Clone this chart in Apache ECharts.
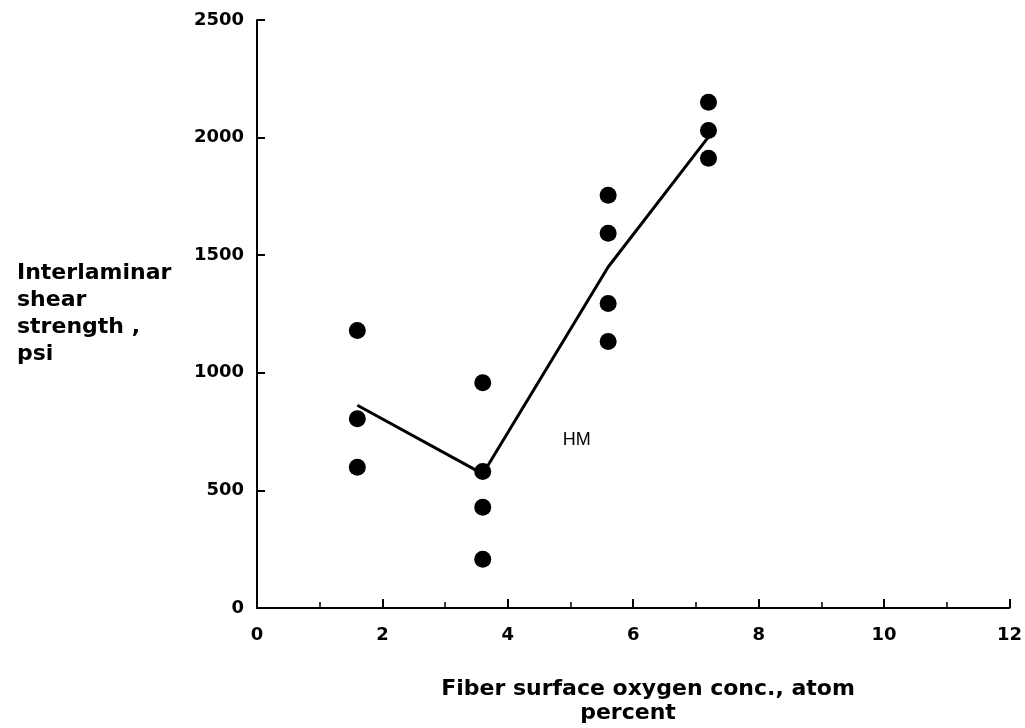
<!DOCTYPE html>
<html>
<head>
<meta charset="utf-8">
<script src="https://cdn.jsdelivr.net/npm/echarts@6/dist/echarts.min.js"></script>
<style>html,body{margin:0;padding:0;background:#fff}#chart{width:1025px;height:728px}</style>
</head>
<body>
<div id="chart"></div>
<script>
// Measured points: fiber surface oxygen conc. (atom %) vs interlaminar shear strength (psi)
const pointX = [1.6, 1.6, 1.6, 3.6, 3.6, 3.6, 3.6, 5.6, 5.6, 5.6, 5.6, 7.2, 7.2, 7.2];
const pointY = [1180, 805, 598, 958, 580, 428, 207, 1755, 1593, 1295, 1133, 2150, 2030, 1912];
// Trend line through group means
const lineX = [1.6, 3.6, 5.6, 7.2];
const lineY = [862, 570, 1450, 2003];
// Annotation
const noteLabel = ['HM'];
const noteX = [5.1];
const noteY = [714];
// Axis settings
const xTicks = [0, 2, 4, 6, 8, 10, 12];
const yTicks = [0, 500, 1000, 1500, 2000, 2500];
const yTitle = 'Interlaminar\nshear\nstrength ,\npsi';
const xTitle1 = 'Fiber surface oxygen conc., atom';
const xTitle2 = 'percent';

const chart = echarts.init(document.getElementById('chart'));
const titleFont = {fontFamily: 'DejaVu Sans', fontWeight: 'bold', fontSize: 22, color: '#000'};
const tickFont = {fontFamily: 'DejaVu Sans', fontWeight: 'bold', fontSize: 18, color: '#000'};

chart.setOption({
  backgroundColor: '#fff',
  animation: false,
  title: [
    {text: yTitle, left: 12, top: 255, textStyle: Object.assign({lineHeight: 27}, titleFont)},
    {text: xTitle1, left: 643, top: 673, textAlign: 'center', textStyle: titleFont},
    {text: xTitle2, left: 623, top: 697, textAlign: 'center', textStyle: titleFont}
  ],
  grid: {left: 257, right: 15, top: 20, bottom: 120, containLabel: false},
  xAxis: {
    type: 'value', min: xTicks[0], max: xTicks[xTicks.length - 1], interval: 2,
    axisLine: {show: true, lineStyle: {color: '#000', width: 2}},
    axisTick: {show: true, inside: true, length: 9, lineStyle: {color: '#000', width: 2}},
    minorTick: {show: true, splitNumber: 2, length: 6, lineStyle: {color: '#000', width: 1.5}},
    splitLine: {show: false},
    axisLabel: Object.assign({margin: 18, formatter: v => String(v)}, tickFont)
  },
  yAxis: {
    type: 'value', min: yTicks[0], max: yTicks[yTicks.length - 1], interval: 500,
    axisLine: {show: true, lineStyle: {color: '#000', width: 2}},
    axisTick: {show: true, inside: true, length: 8, lineStyle: {color: '#000', width: 2}},
    splitLine: {show: false},
    axisLabel: Object.assign({margin: 13, formatter: v => String(v)}, tickFont)
  },
  series: [
    {
      type: 'line', data: lineX.map((x, i) => [x, lineY[i]]),
      symbol: 'none', lineStyle: {color: '#000', width: 3}, z: 2
    },
    {
      type: 'scatter', data: pointX.map((x, i) => [x, pointY[i]]),
      symbol: 'circle', symbolSize: 17, itemStyle: {color: '#000', opacity: 1}, z: 3
    },
    {
      type: 'scatter', data: noteX.map((x, i) => ({value: [x, noteY[i]], name: noteLabel[i]})),
      symbolSize: 1, silent: true, itemStyle: {color: 'rgba(0,0,0,0)', opacity: 1},
      label: {show: true, position: 'inside', formatter: p => p.name, opacity: 1,
        fontFamily: 'Liberation Sans', fontSize: 18, color: '#000'}
    }
  ]
});
</script>
</body>
</html>
